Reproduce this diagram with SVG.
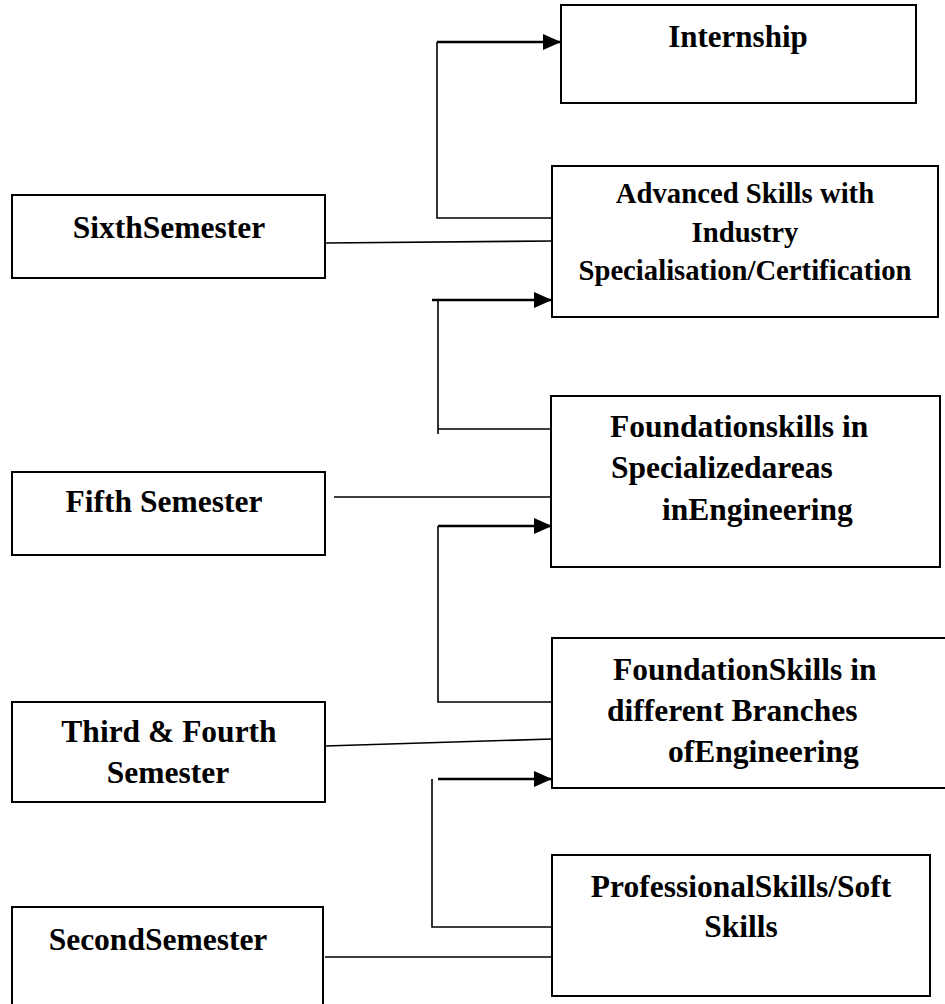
<svg xmlns="http://www.w3.org/2000/svg" width="945" height="1004" viewBox="0 0 945 1004">
<style>
.box{fill:#fff;stroke:#000;stroke-width:2}
.t{font-family:"Liberation Serif","Times New Roman",serif;font-weight:bold;font-size:31.5px;fill:#000}
.s{font-size:28.7px}
.m{text-anchor:middle}
.ln{fill:none;stroke:#000;stroke-width:1.6}
.ar{fill:none;stroke:#000;stroke-width:2.6}
</style>
<defs>
<marker id="ah" viewBox="0 0 18 16" refX="18" refY="8" markerWidth="18" markerHeight="16" markerUnits="userSpaceOnUse" orient="auto">
<path d="M0,0 L18,8 L0,16 Z" fill="#000"/>
</marker>
</defs>
<rect width="945" height="1004" fill="#fff"/>
<g id="connectors">
<path class="ln" d="M552,218 H437 V42"/>
<path class="ar" d="M437,42 H561" marker-end="url(#ah)"/>
<path class="ln" d="M325,243 L552,241"/>
<path class="ar" d="M432,300 H552" marker-end="url(#ah)"/>
<path class="ln" d="M438,300 V434 M438,429 H552"/>
<path class="ln" d="M334,497 H563"/>
<path class="ar" d="M438,526 H552" marker-end="url(#ah)"/>
<path class="ln" d="M438,526 V702 H562"/>
<path class="ln" d="M325,746 L552,739"/>
<path class="ar" d="M438,779 H552" marker-end="url(#ah)"/>
<path class="ln" d="M432,779 V927 H552"/>
<path class="ln" d="M325,957 H563"/>
</g>
<g id="internship">
<rect class="box" x="561" y="5" width="355" height="98"/>
<text class="t m" x="738" y="47" style="font-size:31px">Internship</text>
</g>
<g id="advanced">
<rect class="box" x="552" y="166" width="386" height="151"/>
<text class="t s m" x="745" y="203">Advanced Skills with</text>
<text class="t s m" x="745" y="242">Industry</text>
<text class="t s m" x="745" y="280">Specialisation/Certification</text>
</g>
<g id="sixth">
<rect class="box" x="12" y="195" width="313" height="83"/>
<text class="t m" x="169" y="238">SixthSemester</text>
</g>
<g id="foundation-specialized">
<rect class="box" x="551" y="396" width="389" height="171"/>
<text class="t" x="610" y="437">Foundationskills in</text>
<text class="t" x="611" y="478">Specializedareas</text>
<text class="t" x="662" y="520">inEngineering</text>
</g>
<g id="fifth">
<rect class="box" x="12" y="472" width="313" height="83"/>
<text class="t m" x="164" y="512">Fifth Semester</text>
</g>
<g id="foundation-branches">
<rect class="box" x="552" y="638" width="400" height="150"/>
<text class="t" x="613" y="680">FoundationSkills in</text>
<text class="t" x="607" y="721">different Branches</text>
<text class="t" x="668" y="762">ofEngineering</text>
</g>
<g id="third-fourth">
<rect class="box" x="12" y="702" width="313" height="100"/>
<text class="t m" x="169" y="742">Third &amp; Fourth</text>
<text class="t m" x="168" y="783">Semester</text>
</g>
<g id="professional">
<rect class="box" x="552" y="855" width="378" height="141"/>
<text class="t m" x="741" y="897">ProfessionalSkills/Soft</text>
<text class="t m" x="741" y="937">Skills</text>
</g>
<g id="second">
<rect class="box" x="12" y="907" width="311" height="110"/>
<text class="t m" x="158" y="950">SecondSemester</text>
</g>
</svg>
